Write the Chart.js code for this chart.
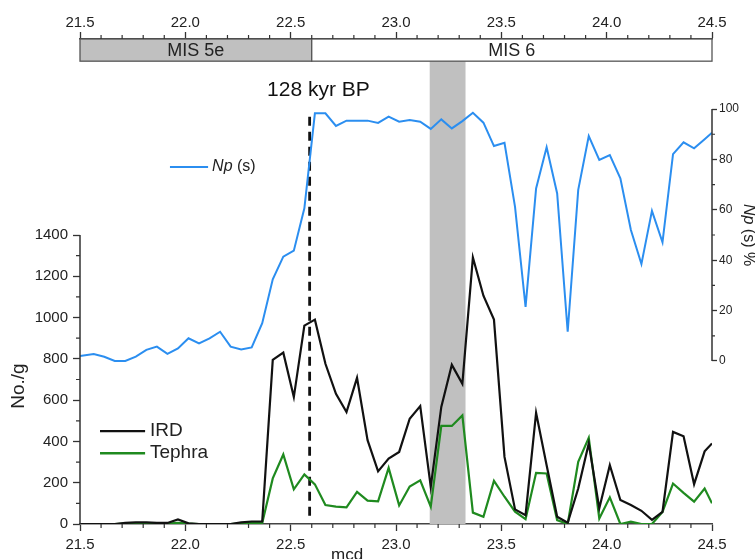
<!DOCTYPE html>
<html>
<head>
<meta charset="utf-8">
<title>IRD, Tephra and Np (s)</title>
<script src="https://cdn.jsdelivr.net/npm/chart.js@4.4.0/dist/chart.umd.min.js"></script>
<style>
  body { margin: 0; background: #fff; }
  #wrap { width: 755px; height: 559px; }
</style>
</head>
<body>
<div id="wrap"><canvas id="myChart" width="755" height="559"></canvas></div>
<script>
// profundidad (mcd)
const depth = [
  21.5, 21.565, 21.615, 21.665, 21.715, 21.765, 21.815, 21.865, 21.915, 21.965,
  22.015, 22.065, 22.115, 22.165, 22.215, 22.265, 22.315, 22.365, 22.415, 22.465,
  22.515, 22.565, 22.615, 22.665, 22.715, 22.765, 22.815, 22.865, 22.915, 22.965,
  23.015, 23.065, 23.115, 23.165, 23.215, 23.265, 23.315, 23.365, 23.415, 23.465,
  23.515, 23.565, 23.615, 23.665, 23.715, 23.765, 23.815, 23.865, 23.915, 23.965,
  24.015, 24.065, 24.115, 24.165, 24.215, 24.265, 24.315, 24.365, 24.415, 24.465, 24.5
];

// Np (s) %
const npValues = [
  2.0, 2.8, 1.7, 0, 0, 1.7, 4.4, 5.7, 2.8, 5.0,
  9.0, 7.0, 9.0, 11.6, 5.7, 4.6, 5.4, 15.0, 32.4, 41.4,
  43.8, 60.6, 98.3, 98.3, 93.3, 95.4, 95.4, 95.4, 94.5, 97.0,
  95.0, 95.6, 95.0, 92.1, 95.9, 92.3, 95.2, 98.5, 94.6, 85.3,
  86.6, 61.2, 21.5, 68.5, 84.8, 66.5, 11.6, 67.9, 89.3, 79.8,
  81.7, 72.5, 52.0, 38.5, 59.6, 47.1, 82.1, 86.8, 84.4, 88.0, 90.6
];

// IRD No./g
const irdValues = [
  0, 0, 0, 0, 5, 8, 8, 5, 5, 22,
  3, 0, 0, 0, 0, 8, 12, 12, 795, 830,
  615, 961, 990, 776, 631, 542, 708, 406, 255, 317,
  349, 510, 571, 180, 567, 771, 679, 1291, 1106, 990,
  325, 71, 43, 539, 285, 35, 6, 172, 390, 76,
  285, 116, 92, 64, 20, 59, 446, 425, 193, 352, 390
];

// Tephra No./g
const tephraValues = [
  0, 0, 0, 0, 2, 3, 3, 2, 2, 5,
  2, 0, 0, 0, 0, 3, 5, 5, 221, 337,
  168, 240, 192, 92, 84, 81, 156, 113, 110, 272,
  90, 182, 212, 84, 475, 475, 526, 55, 35, 209,
  132, 60, 23, 248, 245, 19, 0, 301, 417, 27,
  129, 0, 11, 0, 0, 59, 196, 151, 108, 172, 100
];

const xTicks = [21.5, 22.0, 22.5, 23.0, 23.5, 24.0, 24.5];
const leftTicks = [0, 200, 400, 600, 800, 1000, 1200, 1400];
const rightTicks = [0, 20, 40, 60, 80, 100];

const misBoundary = 22.6;         // MIS 5e / MIS 6
const ashBand = [23.16, 23.33];   // banda gris
const ageLine = 22.59;            // 128 kyr BP
const ageLineSpan = [40, 1995];

const fontFamily = "'Liberation Sans', Arial, Helvetica, sans-serif";
Chart.defaults.font.family = fontFamily;
Chart.defaults.color = '#222';

function toPoints(values) {
  return depth.map((d, i) => ({ x: d, y: values[i] }));
}

// cajas MIS, banda, ejes parciales, ticks menores y textos
const decorations = {
  id: 'decorations',
  beforeDatasetsDraw(chart) {
    const { ctx, chartArea } = chart;
    const x = chart.scales.x;
    const yNp = chart.scales.yNp;
    const top = yNp.getPixelForValue(119);
    const x0 = x.getPixelForValue(ashBand[0]);
    const x1 = x.getPixelForValue(ashBand[1]);
    ctx.save();
    ctx.fillStyle = '#c0c0c0';
    ctx.fillRect(x0, top, x1 - x0, chartArea.bottom - top);
    ctx.restore();
  },
  afterDraw(chart) {
    const { ctx, chartArea } = chart;
    const x = chart.scales.x;
    const y = chart.scales.y;
    const yNp = chart.scales.yNp;
    ctx.save();

    // MIS
    const boxTop = chartArea.top;
    const boxBottom = yNp.getPixelForValue(119);
    const xa = x.getPixelForValue(21.5);
    const xb = x.getPixelForValue(misBoundary);
    const xc = x.getPixelForValue(24.5);
    ctx.lineWidth = 1.3;
    ctx.strokeStyle = '#555';
    ctx.fillStyle = '#c0c0c0';
    ctx.fillRect(xa, boxTop, xb - xa, boxBottom - boxTop);
    ctx.strokeRect(xa, boxTop, xb - xa, boxBottom - boxTop);
    ctx.fillStyle = '#fff';
    ctx.fillRect(xb, boxTop, xc - xb, boxBottom - boxTop);
    ctx.strokeRect(xb, boxTop, xc - xb, boxBottom - boxTop);
    ctx.fillStyle = '#222';
    ctx.font = '18px ' + fontFamily;
    ctx.textAlign = 'center';
    ctx.textBaseline = 'middle';
    ctx.fillText('MIS 5e', (xa + xb) / 2, (boxTop + boxBottom) / 2 + 1);
    ctx.fillText('MIS 6', (xb + xc) / 2, (boxTop + boxBottom) / 2 + 1);

    // ejes parciales
    ctx.strokeStyle = '#333';
    ctx.lineWidth = 1.5;
    ctx.beginPath();
    ctx.moveTo(chartArea.left, y.getPixelForValue(0));
    ctx.lineTo(chartArea.left, y.getPixelForValue(1400));
    ctx.moveTo(chartArea.right, yNp.getPixelForValue(0));
    ctx.lineTo(chartArea.right, yNp.getPixelForValue(100));
    ctx.stroke();

    // ticks menores
    ctx.lineWidth = 1.2;
    ctx.beginPath();
    for (let k = 1; k < 30; k++) {
      if (k % 5 === 0) continue;
      const px = x.getPixelForValue(21.5 + k * 0.1);
      ctx.moveTo(px, chartArea.bottom);
      ctx.lineTo(px, chartArea.bottom + 4);
      ctx.moveTo(px, chartArea.top);
      ctx.lineTo(px, chartArea.top - 4);
    }
    for (let v = 100; v < 1400; v += 200) {
      const py = y.getPixelForValue(v);
      ctx.moveTo(chartArea.left - 4, py);
      ctx.lineTo(chartArea.left, py);
    }
    for (let v = 10; v < 100; v += 20) {
      const py = yNp.getPixelForValue(v);
      ctx.moveTo(chartArea.right, py);
      ctx.lineTo(chartArea.right + 3, py);
    }
    ctx.stroke();

    // 128 kyr BP
    ctx.fillStyle = '#111';
    ctx.textAlign = 'left';
    ctx.textBaseline = 'middle';
    ctx.font = '21px ' + fontFamily;
    ctx.fillText('128 kyr BP', x.getPixelForValue(22.388), yNp.getPixelForValue(107.5));

    // leyenda Np
    ctx.lineWidth = 2;
    ctx.strokeStyle = '#2b8ef0';
    ctx.beginPath();
    ctx.moveTo(x.getPixelForValue(21.927), yNp.getPixelForValue(77));
    ctx.lineTo(x.getPixelForValue(22.108), yNp.getPixelForValue(77));
    ctx.stroke();
    let tx = x.getPixelForValue(22.127);
    ctx.font = 'italic 16px ' + fontFamily;
    ctx.fillStyle = '#222';
    ctx.fillText('Np', tx, yNp.getPixelForValue(77));
    tx += ctx.measureText('Np').width;
    ctx.font = '16px ' + fontFamily;
    ctx.fillText(' (s)', tx, yNp.getPixelForValue(77));

    // leyenda IRD / Tephra
    const legendItems = [['IRD', '#111', 450], ['Tephra', '#1f8a1f', 343]];
    ctx.font = '19px ' + fontFamily;
    legendItems.forEach(([name, color, val]) => {
      ctx.strokeStyle = color;
      ctx.lineWidth = 2.4;
      ctx.beginPath();
      ctx.moveTo(x.getPixelForValue(21.595), y.getPixelForValue(val));
      ctx.lineTo(x.getPixelForValue(21.809), y.getPixelForValue(val));
      ctx.stroke();
      ctx.fillStyle = '#222';
      ctx.fillText(name, x.getPixelForValue(21.832), y.getPixelForValue(val));
    });

    // titulos de ejes
    ctx.textAlign = 'center';
    ctx.font = '19px ' + fontFamily;
    ctx.save();
    ctx.translate(chartArea.left - 61, y.getPixelForValue(668));
    ctx.rotate(-Math.PI / 2);
    ctx.fillText('No./g', 0, 0);
    ctx.restore();

    ctx.save();
    ctx.translate(chartArea.right + 36, yNp.getPixelForValue(50));
    ctx.rotate(Math.PI / 2);
    ctx.font = 'italic 16px ' + fontFamily;
    const w1 = ctx.measureText('Np').width;
    ctx.font = '16px ' + fontFamily;
    const w2 = ctx.measureText(' (s) %').width;
    ctx.textAlign = 'left';
    ctx.font = 'italic 16px ' + fontFamily;
    ctx.fillText('Np', -(w1 + w2) / 2, 0);
    ctx.font = '16px ' + fontFamily;
    ctx.fillText(' (s) %', -(w1 + w2) / 2 + w1, 0);
    ctx.restore();

    ctx.textBaseline = 'top';
    ctx.font = '17px ' + fontFamily;
    ctx.fillText('mcd', x.getPixelForValue(22.768), chartArea.bottom + 23);

    ctx.restore();
  }
};

const tickGrid = { drawOnChartArea: false, tickLength: 7, tickColor: '#333', tickWidth: 1.3 };

const ctx = document.getElementById('myChart').getContext('2d');

new Chart(ctx, {
  type: 'line',
  data: {
    datasets: [
      { label: 'IRD', data: toPoints(irdValues), yAxisID: 'y', borderColor: '#111', borderWidth: 2.2 },
      { label: 'Tephra', data: toPoints(tephraValues), yAxisID: 'y', borderColor: '#1f8a1f', borderWidth: 2.2 },
      { label: 'Np (s)', data: toPoints(npValues), yAxisID: 'yNp', borderColor: '#2b8ef0', borderWidth: 2 },
      {
        label: '128 kyr BP',
        data: [{ x: ageLine, y: ageLineSpan[0] }, { x: ageLine, y: ageLineSpan[1] }],
        yAxisID: 'y', borderColor: '#111', borderWidth: 2.8, borderDash: [9, 6]
      }
    ]
  },
  options: {
    responsive: false,
    animation: false,
    devicePixelRatio: 1,
    layout: { padding: 0 },
    plugins: { legend: { display: false }, tooltip: { enabled: false }, title: { display: false } },
    elements: { point: { radius: 0 }, line: { tension: 0 } },
    scales: {
      x: {
        type: 'linear', position: 'bottom', min: 21.5, max: 24.5,
        afterFit(s) { s.height = 35; },
        afterBuildTicks(s) { s.ticks = xTicks.map(v => ({ value: v })); },
        ticks: { callback: v => v.toFixed(1), font: { size: 15 }, padding: 5, maxRotation: 0, autoSkip: false, color: '#222' },
        grid: tickGrid,
        border: { color: '#444', width: 1.5 }
      },
      x2: {
        type: 'linear', position: 'top', min: 21.5, max: 24.5,
        afterFit(s) { s.height = 39; },
        afterBuildTicks(s) { s.ticks = xTicks.map(v => ({ value: v })); },
        ticks: { callback: v => v.toFixed(1), font: { size: 15 }, padding: 0, maxRotation: 0, autoSkip: false, color: '#222' },
        grid: tickGrid,
        border: { color: '#444', width: 1.5 }
      },
      y: {
        type: 'linear', position: 'left', min: 0, max: 2349.5,
        afterFit(s) { s.width = 80; },
        afterBuildTicks(s) { s.ticks = leftTicks.map(v => ({ value: v })); },
        ticks: { callback: v => String(v), font: { size: 15 }, padding: 5, autoSkip: false, color: '#222' },
        grid: tickGrid,
        border: { display: false }
      },
      yNp: {
        type: 'linear', position: 'right', min: -64.7, max: 127.8,
        afterFit(s) { s.width = 43; },
        afterBuildTicks(s) { s.ticks = rightTicks.map(v => ({ value: v })); },
        ticks: { callback: v => String(v), font: { size: 12 }, padding: 2, autoSkip: false, color: '#222' },
        grid: { drawOnChartArea: false, tickLength: 5, tickColor: '#333', tickWidth: 1.3 },
        border: { display: false }
      }
    }
  },
  plugins: [decorations]
});
</script>
</body>
</html>
